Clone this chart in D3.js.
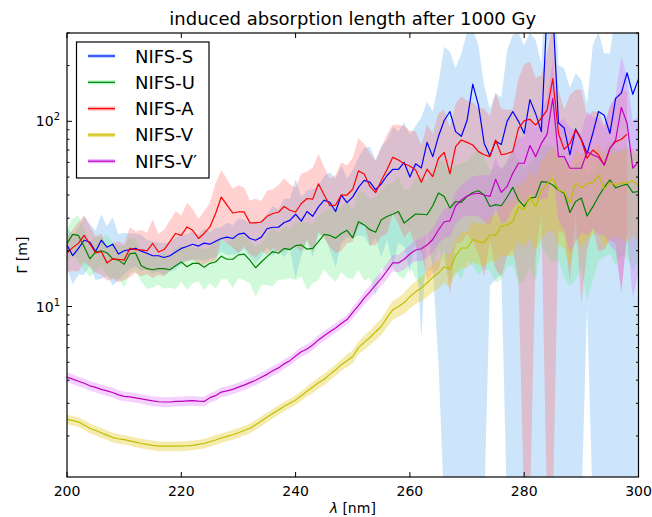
<!DOCTYPE html>
<html lang="en">
<head>
<meta charset="UTF-8">
<title>induced absorption length</title>
<script src="https://d3js.org/d3.v7.min.js"></script>
<style>
  body { margin: 0; background: #fff; }
  text { font-family: 'DejaVu Sans', sans-serif; fill: #000; }
</style>
</head>
<body>
<svg width="652" height="517"></svg>
<script>
// wavelength grid in nm, one sample per nm
const wavelength = d3.range(200, 301);

// induced absorption length (m) per sample
const nifsS = [21.5,18.8,20.6,22.8,22.3,19.8,22.8,20.9,21.7,19.2,
  20.0,20.3,20.6,19.9,19.4,18.8,18.8,18.4,18.8,19.7,
  20.6,21.1,21.7,21.2,22.0,21.7,22.5,23.3,23.7,23.3,
  24.6,24.9,23.3,22.8,23.7,26.3,26.8,26.8,28.4,29.2,
  31.5,28.9,32.6,30.7,34.5,37.5,36.5,32.6,40.0,36.4,
  39.1,44,48,47,42.7,46,51,55,55,60,
  50,59,56,77,64.5,83,101,113,88,83,
  101,159,122,76,65,78,75,100,113,100,
  86,131,110,88,400,400,98,92,66,91,
  80,67,86,113,108,86,133,142,183,140,
  169];
const nifsU = [21.9,24.5,24.2,21.0,18.1,19.7,20.0,19.5,18.1,17.8,
  16.9,19.3,19.4,16.6,16.0,15.8,16.0,16.0,15.8,16.6,
  17.4,16.4,17.1,17.1,16.3,17.1,17.4,18.7,18.0,18.0,
  19.0,19.2,17.8,16.2,17.4,18.6,19.8,19.4,20.6,20.3,
  21.3,21.5,20.4,20.6,22.4,24.5,24.2,23.4,24.8,25.8,
  23.5,28.7,27.6,26.0,25.2,29.4,30.6,31.5,32.6,28.2,
  29.9,31.6,31.5,31.3,35.0,41.0,39.3,34.0,36.9,36.5,
  39.3,41.3,42.2,40.0,34.7,35.5,35.0,38.9,44.0,37.6,
  34.7,38.5,39.0,47.3,47.0,45.3,42.6,40.9,32.2,36.9,
  38.5,30.8,34.5,39.3,44.0,48.3,43.7,44.9,45.8,41.3,
  41.8];
const nifsA = [19.5,20.8,22.0,24.2,21.8,19.5,19.8,17.2,18.1,18.0,
  17.8,20.6,20.3,20.2,20.0,21.9,19.7,20.3,22.4,24.8,
  24.2,26.9,25.8,23.3,24.8,26.9,31.8,39.0,35.3,32.0,
  32.4,32.4,28.3,28.3,28.6,30.7,31.8,32.3,34.7,33.1,
  32.4,36.0,38.3,38.0,46.0,40.0,35.0,35.3,40.0,40.0,
  43.0,54.0,52.0,44.5,41.2,47.9,55.0,63.9,61.8,59.0,
  57.4,54.6,46.9,55.2,50.3,63.2,68.0,52.1,73.1,79.3,
  77.0,74.5,68.6,66.0,64.5,79.3,66.0,67.0,68.6,91.7,
  101,102.5,95.5,104,115,170,86,70.6,76,89.8,
  79.3,63.2,70,66,58.1,71.5,77.7,80,85.3];
const nifsV = [2.46,2.42,2.38,2.29,2.20,2.14,2.08,2.02,1.96,1.93,
  1.91,1.88,1.85,1.82,1.80,1.78,1.76,1.76,1.76,1.76,
  1.76,1.77,1.78,1.80,1.82,1.86,1.90,1.95,1.99,2.03,
  2.08,2.14,2.20,2.30,2.41,2.52,2.64,2.76,2.89,3.00,
  3.13,3.30,3.49,3.67,3.87,4.05,4.30,4.55,4.85,5.10,
  5.37,6.00,6.40,6.80,7.30,7.80,8.70,9.60,10.0,10.5,
  11.3,12.0,12.6,13.4,14.4,15.2,16.4,15.9,18.8,20.7,
  20.7,23.0,22.4,22.2,24.4,24.2,27.2,27.5,28.8,34.6,
  33.5,38.9,34.6,42.0,46.0,49.2,42.6,41.5,36.3,46.5,
  43.7,46.0,46.7,51.3,43.0,46.7,45.3,46.5,46.5,47.9,
  44.4];
const nifsVp = [4.16,4.05,3.95,3.85,3.73,3.66,3.57,3.50,3.43,3.33,
  3.27,3.25,3.21,3.17,3.13,3.09,3.06,3.05,3.05,3.07,
  3.07,3.09,3.10,3.08,3.07,3.22,3.30,3.45,3.50,3.57,
  3.67,3.76,3.88,4.00,4.15,4.30,4.50,4.66,4.90,5.10,
  5.40,5.70,5.90,6.20,6.60,6.95,7.30,7.65,8.10,8.50,
  9.30,10.1,11.1,12.0,13.1,14.2,15.6,17.2,17.2,18.0,
  19.2,20.2,20.5,21.5,23.0,25.9,28.7,29.0,34.9,37.6,
  39.5,40.5,40.9,40.0,39.3,48.6,41.3,44.5,52.4,59.4,
  59.4,74.0,64.5,76.0,85.0,133,64.5,64.5,55.8,55.8,
  55.8,68.6,65.9,64.0,58.1,71.5,79.3,119,97.6,55.8,
  60.6];

// relative uncertainty (%) per sample, drawn as the shaded band
const errS = [25,30,28,35,25,30,38,30,40,28,
  25,22,20,22,18,20,18,20,18,20,
  18,16,18,15,20,16,18,15,20,18,
  22,18,20,25,22,20,30,25,35,30,
  55,35,30,40,30,35,45,50,45,35,
  40,45,50,55,45,60,55,70,60,65,
  70,60,88,66,75,94,150,110,120,180,
  200,100,110,105,80,82,80,140,160,200,
  200,130,150,130,100,100,105,110,130,100,
  110,85,200,170,115,170,200,140,120,150,
  130];
const errU = [20,22,28,25,20,22,18,25,22,20,
  25,22,20,18,22,20,18,22,20,25,
  22,25,22,20,25,22,28,25,22,30,
  25,28,25,30,25,30,35,28,32,30,
  35,32,40,35,38,35,40,42,38,45,
  40,45,50,45,55,45,50,48,55,50,
  45,55,60,50,55,50,55,60,58,62,
  55,60,65,60,55,62,60,58,62,65,
  60,58,65,55,60,62,58,65,60,62,
  58,65,60,55,58,60,62,58,60,62,
  58];
const errA = [22,25,30,28,25,22,25,20,22,25,
  22,30,25,28,25,35,25,28,30,32,
  28,35,30,28,32,35,45,40,38,35,
  40,35,32,35,30,38,35,40,42,38,
  35,45,40,48,45,42,40,45,50,45,
  48,50,45,52,48,50,55,50,55,60,
  55,62,58,75,70,75,70,78,70,72,
  68,70,72,78,65,80,78,72,70,85,
  102,105,80,70,100,100,70,65,82,65,
  87,68,62,70,65,68,72,85,70];
const errV = [6,6,6,6,6,6,6,6,6,6,
  6,6,6,6,6,6,6,6,6,6,
  6,6,6,6,6,6,6,6,6,6,
  6,6,6,6,6,6,6,6,6,6,
  6,6,6,7,7,7,7,7,7,8,
  8,8,9,9,10,10,11,12,12,13,
  14,14,15,16,17,18,18,20,20,22,
  22,24,25,26,28,28,30,32,35,35,
  38,40,42,45,45,48,50,50,55,50,
  52,50,48,50,52,50,48,50,52,50,
  50];
const errVp = [6,6,6,6,6,6,6,6,6,6,
  6,6,6,6,6,6,6,6,6,6,
  6,6,6,6,6,6,6,6,6,6,
  6,6,6,6,6,6,6,6,6,6,
  6,6,6,6,6,6,6,6,6,6,
  7,7,8,8,9,9,10,10,11,12,
  12,13,14,15,15,16,18,18,20,20,
  22,24,25,28,30,30,32,35,35,38,
  40,45,40,50,55,60,55,60,65,60,
  55,65,60,62,58,70,75,90,75,80,
  75];

const seriesNames = ["NIFS-S", "NIFS-U", "NIFS-A", "NIFS-V", "NIFS-V\u2032"];
const xTicks = [200, 220, 240, 260, 280, 300];

const series = [
  {name: seriesNames[0], values: nifsS, err: errS, line: "#0000ff", fill: "#8ec5f7", op: 0.45},
  {name: seriesNames[1], values: nifsU, err: errU, line: "#008000", fill: "#66ee88", op: 0.3},
  {name: seriesNames[2], values: nifsA, err: errA, line: "#ff0000", fill: "#ff6666", op: 0.3},
  {name: seriesNames[3], values: nifsV, err: errV, line: "#bfbf00", fill: "#e6c619", op: 0.35},
  {name: seriesNames[4], values: nifsVp, err: errVp, line: "#bf00bf", fill: "#dd66ff", op: 0.3}
];

const L = 67, R = 638.5, T = 33, B = 477;
const svg = d3.select("svg");
const x = d3.scaleLinear().domain([200, 300]).range([L, R]);
const y = d3.scaleLog().domain([1.2, 300]).range([B, T]);

svg.append("clipPath").attr("id", "plot")
  .append("rect").attr("x", L).attr("y", T).attr("width", R - L).attr("height", B - T);

const plot = svg.append("g").attr("clip-path", "url(#plot)");

const area = d3.area()
  .x(d => x(d.w))
  .y0(d => y(Math.max(d.v * (1 - d.e / 100), 0.8)))
  .y1(d => y(d.v * (1 + d.e / 100)));
const line = d3.line().x(d => x(d.w)).y(d => y(d.v));

series.forEach(s => {
  s.pts = s.values.map((v, i) => ({w: wavelength[i], v: v, e: s.err[i]}));
});

series.forEach(s => {
  plot.append("path").attr("d", area(s.pts))
    .attr("fill", s.fill).attr("fill-opacity", s.op).attr("stroke", "none");
});
series.forEach(s => {
  plot.append("path").attr("d", line(s.pts))
    .attr("fill", "none").attr("stroke", s.line).attr("stroke-width", 1.2)
    .attr("stroke-linejoin", "round");
});

// frame and inward ticks
const axes = svg.append("g").attr("stroke", "#000").attr("fill", "none");
axes.append("rect").attr("x", L).attr("y", T).attr("width", R - L).attr("height", B - T)
  .attr("stroke-width", 1.2);

xTicks.forEach(t => {
  axes.append("line").attr("x1", x(t)).attr("x2", x(t)).attr("y1", B).attr("y2", B - 5);
  axes.append("line").attr("x1", x(t)).attr("x2", x(t)).attr("y1", T).attr("y2", T + 5);
  svg.append("text").attr("x", x(t)).attr("y", B + 19)
    .attr("text-anchor", "middle").attr("font-size", 14).text(t);
});

const yMajor = [10, 100];
const yMinor = [];
[1, 10, 100].forEach(dec => d3.range(2, 10).forEach(k => {
  const v = k * dec;
  if (v >= 1.2 && v <= 300) yMinor.push(v);
}));
yMajor.forEach(v => {
  axes.append("line").attr("x1", L).attr("x2", L + 5).attr("y1", y(v)).attr("y2", y(v));
  axes.append("line").attr("x1", R).attr("x2", R - 5).attr("y1", y(v)).attr("y2", y(v));
  const lbl = svg.append("text").attr("x", 60).attr("y", y(v) + 5)
    .attr("text-anchor", "end").attr("font-size", 14).text("10");
  lbl.append("tspan").attr("dy", -6).attr("font-size", 10).text(Math.round(Math.log10(v)));
});
yMinor.forEach(v => {
  axes.append("line").attr("x1", L).attr("x2", L + 2.5).attr("y1", y(v)).attr("y2", y(v));
  axes.append("line").attr("x1", R).attr("x2", R - 2.5).attr("y1", y(v)).attr("y2", y(v));
});

// titles
svg.append("text").attr("x", (L + R) / 2).attr("y", 25)
  .attr("text-anchor", "middle").attr("font-size", 18)
  .text("induced absorption length after 1000 Gy");
const xl = svg.append("text").attr("x", (L + R) / 2).attr("y", 513)
  .attr("text-anchor", "middle").attr("font-size", 14);
xl.append("tspan").attr("font-style", "italic").text("\u03bb");
xl.append("tspan").text(" [nm]");
svg.append("text").attr("transform", `translate(27,${(T + B) / 2}) rotate(-90)`)
  .attr("text-anchor", "middle").attr("font-size", 14).text("\u0393 [m]");

// legend
const leg = svg.append("g");
leg.append("rect").attr("x", 76.5).attr("y", 42).attr("width", 132.5).attr("height", 136)
  .attr("fill", "#fff").attr("stroke", "#000").attr("stroke-width", 1.2);
series.forEach((s, i) => {
  const ly = 56 + i * 26.3;
  leg.append("rect").attr("x", 88).attr("y", ly - 2).attr("width", 27).attr("height", 4)
    .attr("fill", s.fill).attr("fill-opacity", s.op + 0.2);
  leg.append("line").attr("x1", 88).attr("x2", 115).attr("y1", ly).attr("y2", ly)
    .attr("stroke", s.line).attr("stroke-width", 1.2);
  leg.append("text").attr("x", 135).attr("y", ly + 6.5).attr("font-size", 18).text(s.name);
});
</script>
</body>
</html>
